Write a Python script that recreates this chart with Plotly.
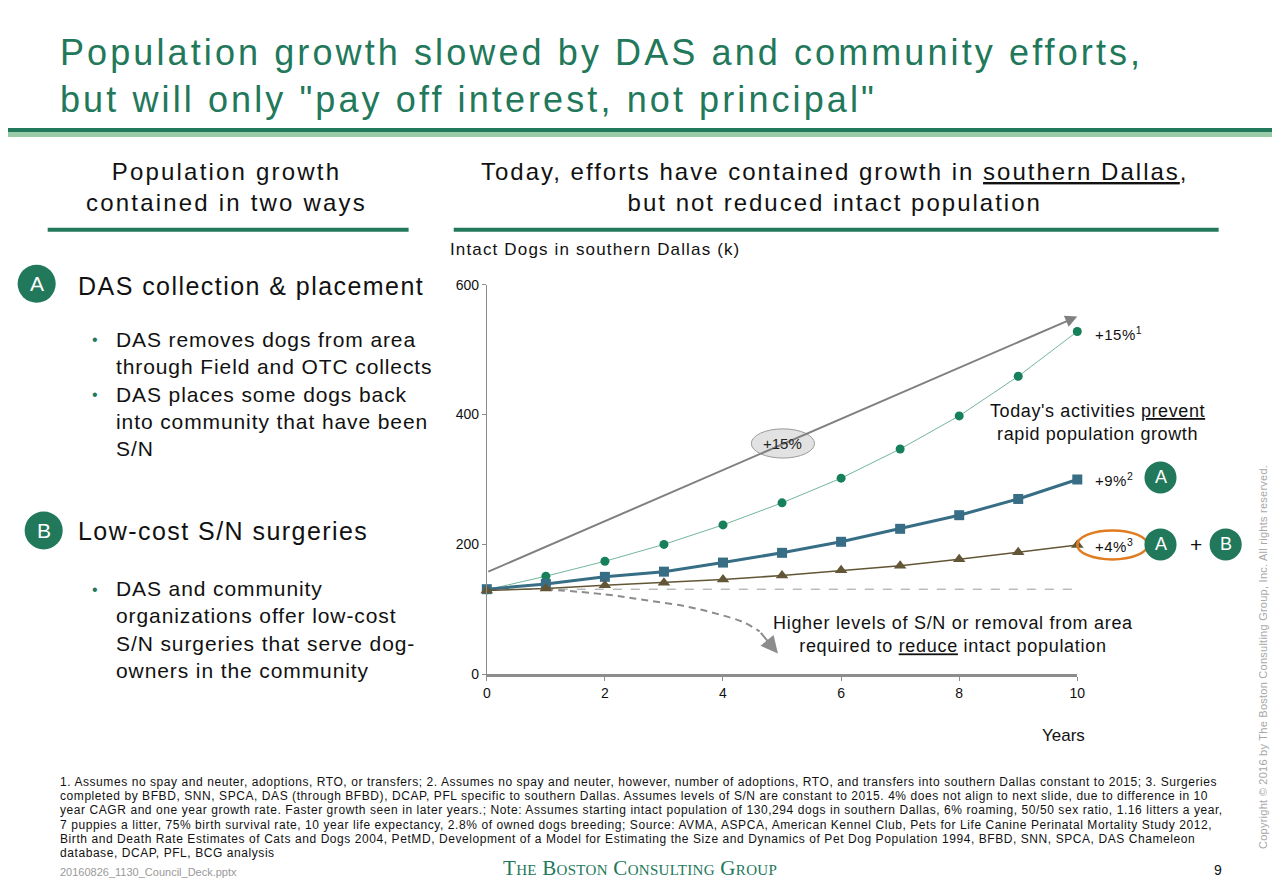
import plotly.graph_objects as go

# chart data (k dogs)
years = [0, 1, 2, 3, 4, 5, 6, 7, 8, 9, 10]
no_action = [130, 151, 174, 200, 230, 264, 302, 347, 398, 459, 528]
das_only = [131, 139, 150, 158, 172, 187, 204, 224, 245, 270, 300]
das_and_sn = [129, 132, 137, 141, 146, 152, 160, 167, 177, 188, 199]
baseline = [131, 131]
baseline_x = [0, 10]
# "reduce" dashed curve
reduce_x = [1.0, 2.0, 2.7, 3.4, 3.9, 4.35, 4.62]
reduce_y = [131, 123, 114, 104, 93, 80, 66]
y_ticks = [0, 200, 400, 600]
x_ticks = [0, 2, 4, 6, 8, 10]
end_labels = ["+15%<sup>1</sup>", "+9%<sup>2</sup>", "+4%<sup>3</sup>"]

footnote_lines = [
    "1. Assumes no spay and neuter, adoptions, RTO, or transfers; 2. Assumes no spay and neuter, however, number of adoptions, RTO, and transfers into southern Dallas constant to 2015; 3. Surgeries",
    "completed by BFBD, SNN, SPCA, DAS (through BFBD), DCAP, PFL specific to southern Dallas. Assumes levels of S/N are constant to 2015. 4% does not align to next slide, due to difference in 10",
    "year CAGR and one year growth rate. Faster growth seen in later years.; Note: Assumes starting intact population of 130,294 dogs in southern Dallas, 6% roaming, 50/50 sex ratio, 1.16 litters a year,",
    "7 puppies a litter, 75% birth survival rate, 10 year life expectancy, 2.8% of owned dogs breeding; Source: AVMA, ASPCA, American Kennel Club, Pets for Life Canine Perinatal Mortality Study 2012,",
    "Birth and Death Rate Estimates of Cats and Dogs 2004, PetMD, Development of a Model for Estimating the Size and Dynamics of Pet Dog Population 1994, BFBD, SNN, SPCA, DAS Chameleon",
    "database, DCAP, PFL, BCG analysis",
]

GREEN = "#21785A"
PAD = 8
W, H = 1280 - 2 * PAD, 887 - 2 * PAD
FONT = "Liberation Sans"
# the photographed page comes out slightly shrunk; undo that so slide pixels line up
SX, OX = 0.988, 6.5
SY, OY = 0.983, 7.0


def px(x):
    return ((x - OX) / SX - PAD) / W


def py(y):
    return 1 - ((y - OY) / SY - PAD) / H


fig = go.Figure()


def txt(x, y, text, size, color="#111", xa="center", ya="middle", ls=0,
        family=FONT, align="center", angle=0, variant="normal"):
    if ls:
        text = "<span style='letter-spacing:%spx'>%s</span>" % (ls, text)
    fig.add_annotation(x=px(x), y=py(y), xref="paper", yref="paper", text=text,
                       xanchor=xa, yanchor=ya, align=align, showarrow=False,
                       textangle=angle,
                       font=dict(family=family, size=size, color=color, variant=variant))


fig.add_trace(go.Scatter(x=baseline_x, y=baseline, mode="lines",
                         line=dict(color="#9a9a9a", width=1, dash="dash"),
                         hoverinfo="skip"))
fig.add_trace(go.Scatter(x=reduce_x, y=reduce_y, mode="lines",
                         line=dict(color="#8c8c8c", width=2, dash="7px,5px", shape="spline"),
                         hoverinfo="skip"))
fig.add_trace(go.Scatter(x=years, y=no_action, mode="lines+markers", cliponaxis=False,
                         line=dict(color="#74b59a", width=1),
                         marker=dict(symbol="circle", size=9, color="#16805a")))
fig.add_trace(go.Scatter(x=years, y=das_only, mode="lines+markers", cliponaxis=False,
                         line=dict(color="#376e86", width=3),
                         marker=dict(symbol="square", size=10, color="#376e86")))
fig.add_trace(go.Scatter(x=years, y=das_and_sn, mode="lines+markers", cliponaxis=False,
                         line=dict(color="#635636", width=1.5),
                         marker=dict(symbol="triangle-up", size=11, color="#635636")))

shapes = []
# header rules
shapes.append(dict(type="rect", xref="paper", yref="paper", x0=-0.05, x1=1.05,
                   y0=py(131), y1=py(127), fillcolor=GREEN, line_width=0))
shapes.append(dict(type="rect", xref="paper", yref="paper", x0=-0.05, x1=1.05,
                   y0=py(136), y1=py(131), fillcolor="#9acba8", line_width=0))
shapes.append(dict(type="rect", xref="paper", yref="paper", x0=px(50), x1=px(410),
                   y0=py(231), y1=py(227), fillcolor=GREEN, line_width=0))
shapes.append(dict(type="rect", xref="paper", yref="paper", x0=px(455), x1=px(1218),
                   y0=py(231), y1=py(227), fillcolor=GREEN, line_width=0))
# +15% ellipse on arrow
shapes.append(dict(type="circle", xref="x", yref="y", x0=4.48, x1=5.55, y0=333, y1=378,
                   fillcolor="#e2e2e2", line=dict(color="#9a9a9a", width=1)))
# orange ring around +4%
shapes.append(dict(type="circle", xref="paper", yref="paper", x0=px(1077), x1=px(1147),
                   y0=py(559), y1=py(530), line=dict(color="#e07b20", width=2.5)))


def badge(cx, cy, r, letter, size):
    shapes.append(dict(type="circle", xref="paper", yref="paper",
                       x0=px(cx - r), x1=px(cx + r), y0=py(cy + r), y1=py(cy - r),
                       fillcolor=GREEN, line_width=0))
    txt(cx, cy, letter, size, color="white")


badge(39, 283, 19, "A", 21)
badge(46, 530, 19, "B", 21)
badge(1160, 477, 16, "A", 18)
badge(1160, 544, 16, "A", 18)
badge(1225, 544, 16, "B", 18)

fig.update_layout(shapes=shapes)

# growth arrow
fig.add_annotation(x=10, y=551, ax=0, ay=157, xref="x", yref="y", axref="x", ayref="y",
                   showarrow=True, arrowhead=2, arrowsize=1.2, arrowwidth=2,
                   arrowcolor="#808080", text="")
fig.add_annotation(x=5.0, y=355, xref="x", yref="y", text="+15%", showarrow=False,
                   xanchor="center", yanchor="middle",
                   font=dict(family=FONT, size=15, color="#222"))
# reduce arrow head
fig.add_annotation(x=4.93, y=32, ax=4.62, ay=66, xref="x", yref="y", axref="x", ayref="y",
                   showarrow=True, arrowhead=2, arrowsize=1.7, arrowwidth=2,
                   arrowcolor="#8c8c8c", text="")

for lbl, ypix in zip(end_labels, [333, 479, 545]):
    txt(1093, ypix, lbl, 15, xa="left", ls=0.5)
txt(1195, 544, "+", 21)

txt(1097, 422, "Today's activities <u>prevent</u><br>rapid population growth", 18, ls=0.6)
txt(953, 634, "Higher levels of S/N or removal from area<br>required to <u>reduce</u> intact population", 18, ls=0.7)
txt(449, 249, "Intact Dogs in southern Dallas (k)", 17, xa="left", ls=1.15)
txt(1063, 735, "Years", 17)

# title
txt(60, 75, "Population growth slowed by DAS and community efforts,<br>but will only \"pay off interest, not principal\"",
    36, color=GREEN, xa="left", align="left", ls=3.1)

# section headers
txt(228, 186, "Population growth<br>contained in two ways", 24, ls=2.2)
txt(835, 186, "Today, efforts have contained growth in <u>southern Dallas</u>,<br>but not reduced intact population", 24, ls=2.0)

# left panel
txt(78, 285, "DAS collection &amp; placement", 25, xa="left", ls=1.45)
txt(78, 531, "Low-cost S/N surgeries", 25, xa="left", ls=1.45)

bullets_a = "DAS removes dogs from area<br>through Field and OTC collects<br>DAS places some dogs back<br>into community that have been<br>S/N"
bullets_b = "DAS and community<br>organizations offer low-cost<br>S/N surgeries that serve dog-<br>owners in the community"
txt(116, 393.5, bullets_a, 21, xa="left", align="left", ls=0.9)
txt(116, 629.5, bullets_b, 21, xa="left", align="left", ls=0.9)
for ydot in [339, 394, 589]:
    txt(97, ydot, "•", 16, color=GREEN)

# footnote
for i, line in enumerate(footnote_lines):
    txt(60, 782 + i * 14.2, line, 12, xa="left", align="left", ls=0.57)

txt(60, 872, "20160826_1130_Council_Deck.pptx", 11, color="#999", xa="left")
txt(641, 868, "The Boston Consulting Group", 21, color=GREEN, family="Liberation Serif",
    variant="small-caps", ls=0.3)
txt(1217, 870, "9", 14)
txt(1262, 657, "Copyright © 2016 by The Boston Consulting Group, Inc. All rights reserved.",
    11, color="#a8a8a8", angle=-90, ls=0.25)

fig.update_xaxes(domain=[px(488), px(1077)], range=[0, 10], tickvals=x_ticks,
                 showgrid=False, zeroline=False, showline=True, linecolor="#8c8c8c",
                 linewidth=3, ticks="outside", ticklen=4, tickcolor="#8c8c8c",
                 tickfont=dict(family=FONT, size=14, color="#111"))
fig.update_yaxes(domain=[py(674), py(284)], range=[0, 600], tickvals=y_ticks,
                 showgrid=False, zeroline=False, showline=True, linecolor="#8c8c8c",
                 linewidth=1, ticks="outside", ticklen=4, tickcolor="#8c8c8c",
                 tickfont=dict(family=FONT, size=14, color="#111"))

fig.update_layout(width=W, height=H, margin=dict(l=0, r=0, t=0, b=0),
                  showlegend=False, plot_bgcolor="white", paper_bgcolor="white")
fig.write_html("out.html", config={"displayModeBar": False})
